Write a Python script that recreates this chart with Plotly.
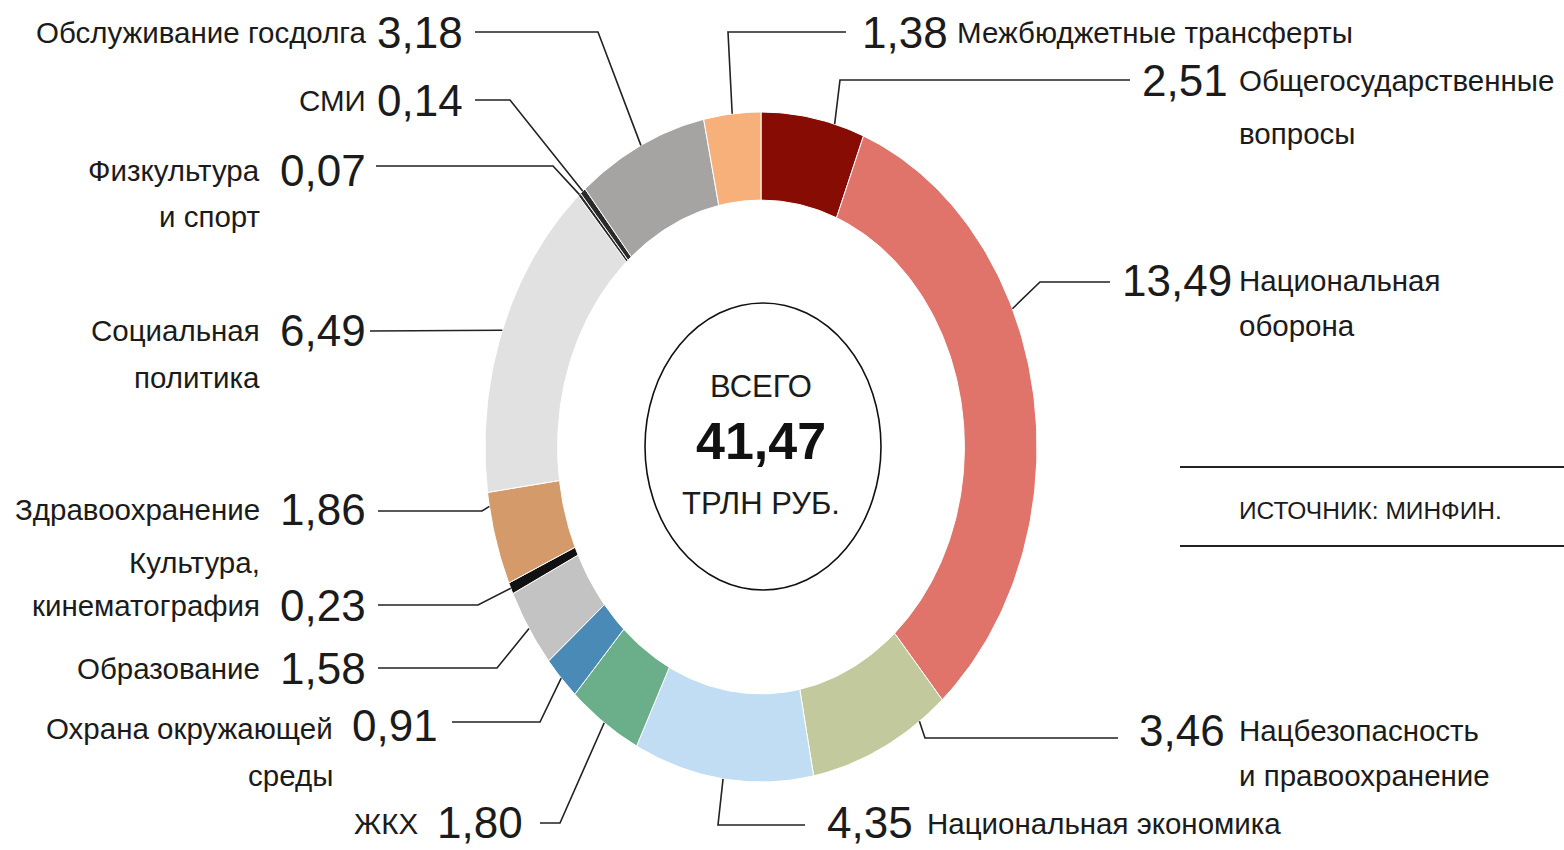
import numpy as np
import plotly.graph_objects as go

# ---------------- data ----------------
categories = [
    "Общегосударственные вопросы",
    "Национальная оборона",
    "Нацбезопасность и правоохранение",
    "Национальная экономика",
    "ЖКХ",
    "Охрана окружающей среды",
    "Образование",
    "Культура, кинематография",
    "Здравоохранение",
    "Социальная политика",
    "Физкультура и спорт",
    "СМИ",
    "Обслуживание госдолга",
    "Межбюджетные трансферты",
]
values = [2.51, 13.49, 3.46, 4.35, 1.80, 0.91, 1.58, 0.23, 1.86, 6.49, 0.07, 0.14, 3.18, 1.38]
total_label = "41,47"

# ---------------- styles ----------------
colors = ["#870d04", "#e0746b", "#c2c99c", "#c0ddf3", "#6aae8a", "#4a8ab6", "#c4c3c4",
          "#111111", "#d49a6a", "#e1e1e1", "#2a2a2a", "#2a2a2a", "#a6a3a3", "#f8b07b"]

W, H = 1564, 850
CX, CY = 761, 447
RX, RY = 276, 335
INNER = 0.737

FONT = "Liberation Sans, Arial, Helvetica, sans-serif"
TXT = "#1b1b1b"
NUM_SIZE = 44
LAB_SIZE = 29.5

# label layout: side, number y, number edge x, label edge x, label lines (with y), line start x, elbow x, line y, anchor fraction in slice
layout_spec = {
    "Обслуживание госдолга": dict(side="L", ny=32, nx=465, lx=368, lines=[("Обслуживание госдолга", 32)], ls=475, ex=598, ly=32, f=0.5),
    "СМИ": dict(side="L", ny=100, nx=465, lx=368, lines=[("СМИ", 100)], ls=475, ex=510, ly=100, f=0.5),
    "Физкультура и спорт": dict(side="L", ny=170, nx=368, lx=262, lines=[("Физкультура", 170), ("и спорт", 216)], ls=376, ex=553, ly=166, f=0.5),
    "Социальная политика": dict(side="L", ny=330, nx=368, lx=262, lines=[("Социальная", 330), ("политика", 377)], ls=370, ex=465, ly=331, f=0.5),
    "Здравоохранение": dict(side="L", ny=509, nx=368, lx=262, lines=[("Здравоохранение", 509)], ls=378, ex=482, ly=511, f=0.85),
    "Культура, кинематография": dict(side="L", ny=605, nx=368, lx=262, lines=[("Культура,", 562), ("кинематография", 605)], ls=378, ex=478, ly=605, f=0.5),
    "Образование": dict(side="L", ny=668, nx=368, lx=262, lines=[("Образование", 668)], ls=378, ex=497, ly=668, f=0.5),
    "Охрана окружающей среды": dict(side="L", ny=725, nx=440, lx=335, lines=[("Охрана окружающей", 728), ("среды", 775)], ls=452, ex=540, ly=722, f=0.5),
    "ЖКХ": dict(side="L", ny=822, nx=525, lx=420, lines=[("ЖКХ", 823)], ls=540, ex=560, ly=823, f=0.5),
    "Межбюджетные трансферты": dict(side="R", ny=32, nx=860, lx=955, lines=[("Межбюджетные трансферты", 32)], ls=846, ex=728, ly=32, f=0.5),
    "Общегосударственные вопросы": dict(side="R", ny=80, nx=1140, lx=1237, lines=[("Общегосударственные", 80), ("вопросы", 133)], ls=1130, ex=840, ly=80, f=0.71),
    "Национальная оборона": dict(side="R", ny=280, nx=1120, lx=1237, lines=[("Национальная", 280), ("оборона", 325)], ls=1110, ex=1040, ly=282, f=0.374),
    "Нацбезопасность и правоохранение": dict(side="R", ny=730, nx=1137, lx=1237, lines=[("Нацбезопасность", 730), ("и правоохранение", 775)], ls=1118, ex=925, ly=738, f=0.2),
    "Национальная экономика": dict(side="R", ny=822, nx=825, lx=925, lines=[("Национальная экономика", 823)], ls=805, ex=718, ly=825, f=0.5),
}

fig = go.Figure()

vals = np.array(values, dtype=float)
cum = np.concatenate([[0], np.cumsum(vals)]) / vals.sum()


def ell(t, k):
    return CX + k * RX * np.sin(t), CY - k * RY * np.cos(t)


anchors = {}
for i, (cat, col) in enumerate(zip(categories, colors)):
    t0, t1 = 2 * np.pi * cum[i], 2 * np.pi * cum[i + 1]
    n = max(3, int((t1 - t0) / (2 * np.pi) * 400))
    t = np.linspace(t0, t1, n)
    xo, yo = ell(t, 1.0)
    xi, yi = ell(t[::-1], INNER)
    xs = np.concatenate([xo, xi, xo[:1]])
    ys = np.concatenate([yo, yi, yo[:1]])
    fig.add_trace(go.Scatter(x=xs, y=ys, mode="lines", fill="toself", fillcolor=col,
                             line=dict(color="white", width=1), hoverinfo="skip", showlegend=False))
    spec = layout_spec[cat]
    ta = t0 + spec["f"] * (t1 - t0)
    anchors[cat] = ell(ta, 1.0)

# leader lines and labels
for cat, v in zip(categories, values):
    s = layout_spec[cat]
    ax_, ay_ = anchors[cat]
    fig.add_trace(go.Scatter(x=[s["ls"], s["ex"], ax_], y=[s["ly"], s["ly"], ay_], mode="lines",
                             line=dict(color="#222222", width=1.6), hoverinfo="skip", showlegend=False))
    num = f"{v:.2f}".replace(".", ",")
    anc = "right" if s["side"] == "L" else "left"
    fig.add_annotation(x=s["nx"], y=s["ny"], text=num, showarrow=False, xanchor=anc, yanchor="middle",
                       font=dict(family=FONT, size=NUM_SIZE, color=TXT))
    for txt, yy in s["lines"]:
        fig.add_annotation(x=s["lx"], y=yy, text=txt, showarrow=False, xanchor=anc, yanchor="middle",
                           font=dict(family=FONT, size=LAB_SIZE, color=TXT))

# center circle and totals
fig.add_shape(type="circle", xref="x", yref="y", x0=645, x1=881, y0=303, y1=590,
              line=dict(color="#111111", width=1.6))
fig.add_annotation(x=CX, y=386, text="ВСЕГО", showarrow=False, font=dict(family=FONT, size=31, color=TXT))
fig.add_annotation(x=CX, y=441, text=f"<b>{total_label}</b>", showarrow=False, font=dict(family=FONT, size=52, color="#111111"))
fig.add_annotation(x=CX, y=503, text="ТРЛН РУБ.", showarrow=False, font=dict(family=FONT, size=31, color=TXT))

# source block
fig.add_shape(type="line", x0=1180, x1=1564, y0=467, y1=467, line=dict(color="#222222", width=2))
fig.add_shape(type="line", x0=1180, x1=1564, y0=546, y1=546, line=dict(color="#222222", width=2))
fig.add_annotation(x=1237, y=510, text="ИСТОЧНИК: МИНФИН.", showarrow=False, xanchor="left",
                   font=dict(family=FONT, size=24.5, color=TXT))

fig.update_xaxes(range=[0, W], visible=False, fixedrange=True)
fig.update_yaxes(range=[H, 0], visible=False, fixedrange=True)
fig.update_layout(width=W, height=H, margin=dict(l=0, r=0, t=0, b=0), autosize=False,
                  paper_bgcolor="white", plot_bgcolor="white", showlegend=False)

fig.write_html("out.html", config={"displayModeBar": False},
               post_script="document.body.style.margin='0';document.body.style.overflow='hidden';")
